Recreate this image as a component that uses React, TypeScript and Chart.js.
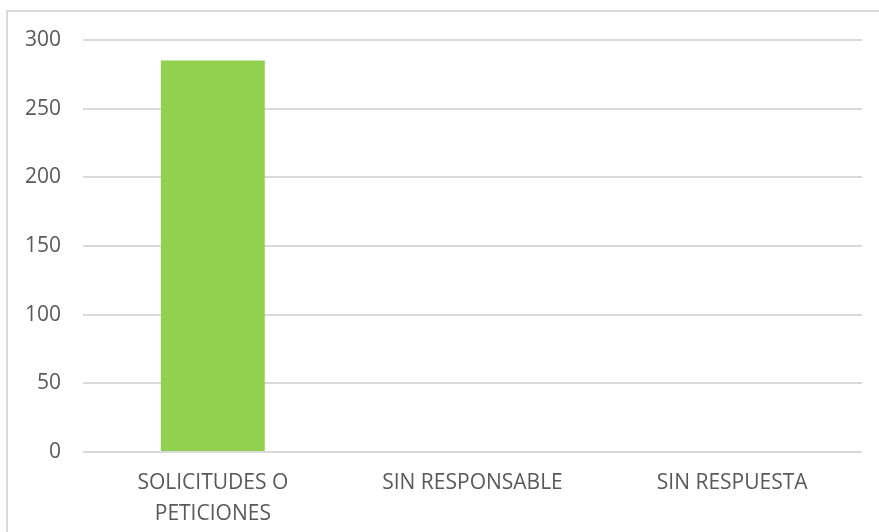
import React, { useEffect, useRef } from "react";
import { Chart, registerables } from "chart.js";

Chart.register(...registerables);

const categories: (string | string[])[] = [["SOLICITUDES O", "PETICIONES"], "SIN RESPONSABLE", "SIN RESPUESTA"];
const values: number[] = [285, 0, 0];
const yMin = 0;
const yMax = 300;
const yStep = 50;

export default function App() {
  const ref = useRef<HTMLCanvasElement | null>(null);
  useEffect(() => {
    if (!ref.current) return;
    const chart = new Chart(ref.current, {
      type: "bar",
      data: {
        labels: categories,
        datasets: [
          {
            data: values,
            backgroundColor: "#92d050",
            borderWidth: 0,
            barPercentage: 0.4,
            categoryPercentage: 1,
          },
        ],
      },
      options: {
        animation: false,
        responsive: false,
        layout: { padding: { left: 0, top: 40, right: 17, bottom: 0 } },
        plugins: { legend: { display: false }, tooltip: { enabled: false } },
        scales: {
          x: {
            grid: { display: false, drawTicks: false },
            border: { display: false },
            ticks: {
              color: "#595959",
              font: { family: "Open Sans", size: 21, lineHeight: 1.45 },
              padding: 16,
              maxRotation: 0,
              autoSkip: false,
            },
            afterFit: (s: any) => {
              s.height = 80;
            },
          },
          y: {
            min: yMin,
            max: yMax,
            grid: { color: "#d9d9d9", lineWidth: 2, drawTicks: false },
            border: { display: false },
            ticks: {
              stepSize: yStep,
              color: "#595959",
              font: { family: "Open Sans", size: 21 },
              padding: 22,
            },
            afterFit: (s: any) => {
              s.width = 83;
            },
          },
        },
      },
    });
    return () => chart.destroy();
  }, []);
  return (
    <div style={{ position: "fixed", left: 0, top: 0, width: 879, height: 532, background: "#fff", overflow: "hidden" }}>
      <div
        style={{
          position: "absolute",
          left: 6,
          top: 10,
          width: 900,
          height: 600,
          border: "2px solid #d9d9d9",
          boxSizing: "border-box",
        }}
      />
      <canvas ref={ref} width={879} height={532} style={{ position: "absolute", left: 0, top: 0 }} />
    </div>
  );
}
